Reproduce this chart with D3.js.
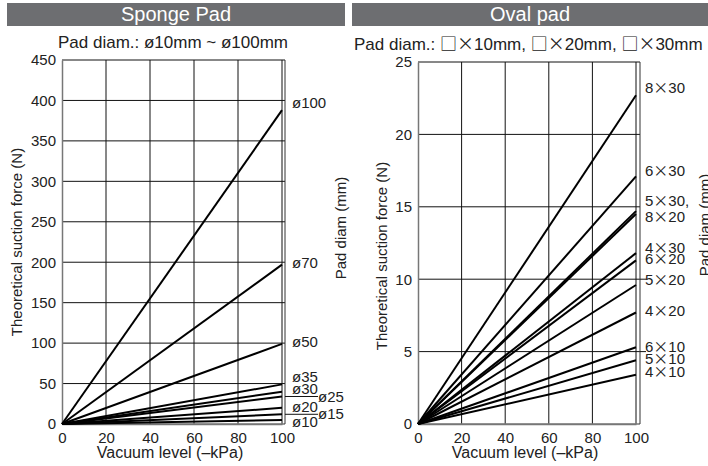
<!DOCTYPE html>
<html>
<head>
<meta charset="utf-8">
<script src="https://cdn.jsdelivr.net/npm/d3@7"></script>
<style>
  body { margin: 0; background: #fff; }
  svg { font-family: "Liberation Sans", Arial, sans-serif; }
  .tick text { font-size: 15px; fill: #222; }
  .lbl { font-size: 15px; fill: #222; }
  .cjk { font-family: "Noto Sans CJK JP", sans-serif; }
</style>
</head>
<body>
<svg id="chart" width="708" height="466"></svg>
<script>
// x values shared by every line (vacuum level, -kPa)
const vacuum = [0, 100];

// Sponge pad: force at 100 kPa (N)
const spongeNames = ['ø100', 'ø70', 'ø50', 'ø35', 'ø30', 'ø25', 'ø20', 'ø15', 'ø10'];
const spongeForce = [388, 197, 99, 49, 40, 34, 20, 12, 5];
const spongeYTicks = [0, 50, 100, 150, 200, 250, 300, 350, 400, 450];

// Oval pad: force at 100 kPa (N)
const ovalNames = ['8×30', '6×30', '5×30,', '8×20', '4×30', '6×20', '5×20', '4×20', '6×10', '5×10', '4×10'];
const ovalForce = [22.7, 17.1, 14.7, 14.5, 11.8, 11.3, 9.6, 7.7, 5.3, 4.4, 3.4];
const ovalYTicks = [0, 5, 10, 15, 20, 25];

const xTicks = [0, 20, 40, 60, 80, 100];

const svg = d3.select('#chart');

// put the wide symbols (□, ×) in a CJK font so they take a full em
function richText(sel, str) {
    str.split(/([□×])/).filter(s => s.length).forEach(s => {
        const t = sel.append('tspan').text(s);
        if (s === '□' || s === '×') t.attr('class', 'cjk');
    });
}

function panel(cfg) {
    const x = d3.scaleLinear().domain([0, 100]).range([cfg.x0, cfg.x1]);
    const y = d3.scaleLinear().domain([0, cfg.ymax]).range([424, cfg.ytop]);
    const g = svg.append('g');

    // header bar
    g.append('rect').attr('x', cfg.barX).attr('y', 3).attr('width', cfg.barW).attr('height', 23).attr('fill', '#6d6e71');
    g.append('text').attr('x', cfg.barX + cfg.barW / 2).attr('y', 21).attr('text-anchor', 'middle')
        .attr('fill', '#fff').style('font-size', '20px').text(cfg.title);
    const sub = g.append('text').attr('x', cfg.subX).attr('y', cfg.subY).attr('text-anchor', cfg.subAnchor)
        .attr('fill', '#222').style('font-size', cfg.subSize);
    richText(sub, cfg.sub);

    // grid
    g.append('g').selectAll('line').data(xTicks.slice(1)).enter().append('line')
        .attr('x1', d => x(d)).attr('x2', d => x(d)).attr('y1', y(0)).attr('y2', y(cfg.ymax))
        .attr('stroke', '#111').attr('stroke-width', 1);
    g.append('g').selectAll('line').data(cfg.yTicks.slice(1)).enter().append('line')
        .attr('x1', x(0)).attr('x2', cfg.axisR).attr('y1', d => y(d)).attr('y2', d => y(d))
        .attr('stroke', '#111').attr('stroke-width', 1);

    // axes
    const xa = g.append('g').attr('transform', 'translate(0,' + y(0) + ')')
        .call(d3.axisBottom(x).tickValues(xTicks).tickSize(0).tickPadding(6));
    const ya = g.append('g').attr('transform', 'translate(' + x(0) + ',0)')
        .call(d3.axisLeft(y).tickValues(cfg.yTicks).tickSize(0).tickPadding(6));
    [xa, ya].forEach(a => a.select('.domain').attr('stroke', '#777').attr('stroke-width', 1.5));
    xa.selectAll('text').attr('dy', '0.85em');
    g.append('line').attr('x1', x(0)).attr('x2', cfg.axisR).attr('y1', y(0)).attr('y2', y(0))
        .attr('stroke', '#777').attr('stroke-width', 1.5);
    g.append('line').attr('x1', cfg.axisR).attr('x2', cfg.axisR).attr('y1', y(0)).attr('y2', y(cfg.ymax))
        .attr('stroke', '#333').attr('stroke-width', 1);

    // leader lines toward outer labels
    g.append('g').selectAll('line').data(cfg.leaders).enter().append('line')
        .attr('x1', cfg.axisR).attr('x2', cfg.leadEnd).attr('y1', d => y(d)).attr('y2', d => y(d))
        .attr('stroke', '#111').attr('stroke-width', 1);

    // data lines
    const line = d3.line().x(d => x(d[0])).y(d => y(d[1]));
    g.append('g').selectAll('path').data(cfg.force).enter().append('path')
        .attr('d', v => line(vacuum.map(k => [k, k / 100 * v])))
        .attr('fill', 'none').attr('stroke', '#000').attr('stroke-width', 2);

    // series labels
    g.append('g').selectAll('text').data(cfg.names).enter().append('text')
        .attr('class', 'lbl')
        .attr('x', (d, i) => cfg.labelX[i])
        .attr('y', (d, i) => cfg.labelY[i])
        .attr('dy', '0.35em')
        .each(function(d) { richText(d3.select(this), d); });

    // axis titles
    g.append('text').attr('transform', 'translate(' + cfg.yTitleX + ',' + cfg.yTitleY + ') rotate(-90)')
        .attr('text-anchor', 'middle').attr('fill', '#222').style('font-size', '15px')
        .text('Theoretical suction force (N)');
    g.append('text').attr('transform', 'translate(' + cfg.padX + ',' + cfg.padY + ') rotate(-90)')
        .attr('text-anchor', 'middle').attr('fill', '#222').style('font-size', '15px')
        .text('Pad diam (mm)');
    g.append('text').attr('x', (cfg.x0 + cfg.x1) / 2 - 2).attr('y', 458).attr('text-anchor', 'middle')
        .attr('fill', '#222').style('font-size', '16px').text('Vacuum level (–kPa)');
}

panel({
    title: 'Sponge Pad', barX: 7, barW: 338,
    sub: 'Pad diam.: ø10mm ~ ø100mm', subX: 173, subY: 48, subAnchor: 'middle', subSize: '17px',
    x0: 62, x1: 282, axisR: 285, ytop: 60, ymax: 450, yTicks: spongeYTicks,
    force: spongeForce, names: spongeNames,
    labelX: [292, 292, 292, 292, 292, 318, 292, 318, 292],
    labelY: [103, 263, 342, 377, 389, 397, 407, 414, 422],
    leaders: [34, 12], leadEnd: 318,
    yTitleX: 22, yTitleY: 242, padX: 346, padY: 228
});

panel({
    title: 'Oval pad', barX: 352, barW: 356,
    sub: 'Pad diam.: □×10mm, □×20mm, □×30mm', subX: 354, subY: 50, subAnchor: 'start', subSize: '17px',
    x0: 418, x1: 636, axisR: 640, ytop: 62, ymax: 25, yTicks: ovalYTicks,
    force: ovalForce, names: ovalNames,
    labelX: [645, 645, 645, 645, 645, 645, 645, 645, 645, 645, 645],
    labelY: [88, 171, 201, 217, 248, 259, 280, 311, 347, 359, 372],
    leaders: [10, 5], leadEnd: 646,
    yTitleX: 387, yTitleY: 256, padX: 710, padY: 225
});
</script>
</body>
</html>
